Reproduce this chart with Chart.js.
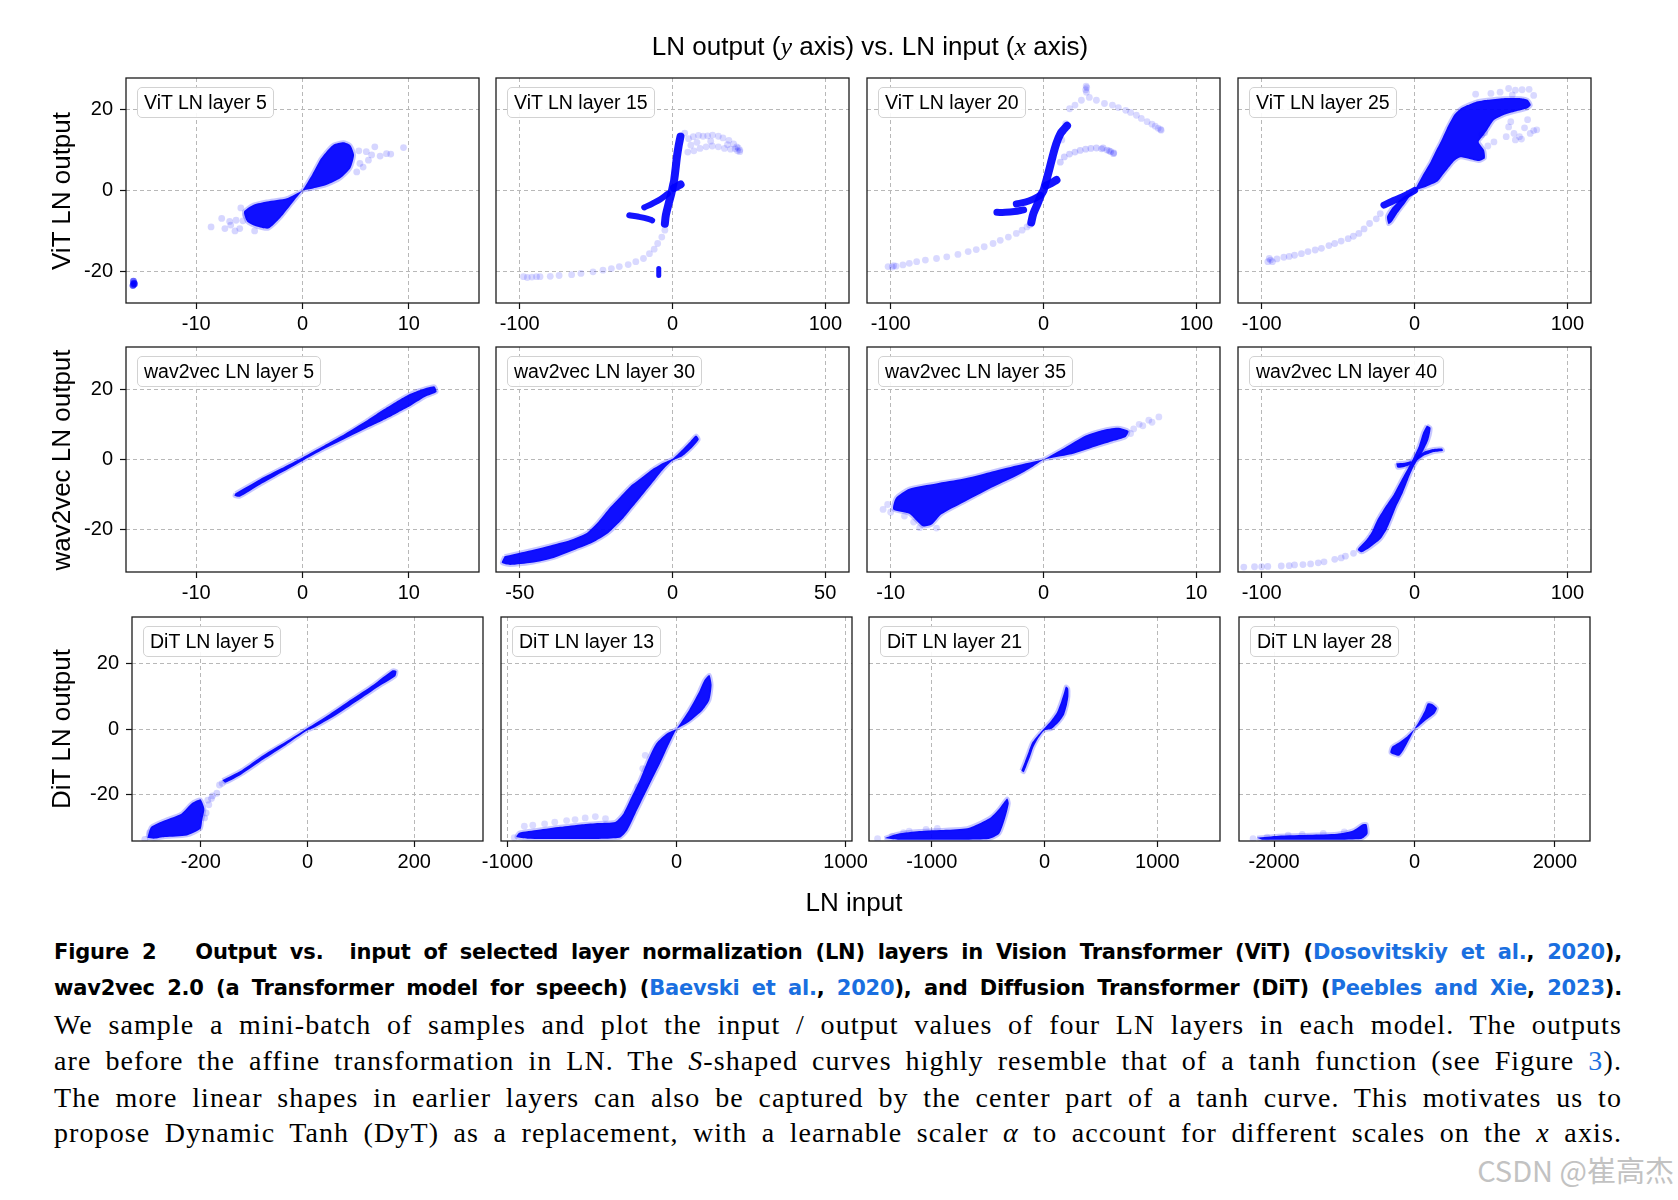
<!DOCTYPE html>
<html><head><meta charset="utf-8">
<script src="https://cdn.jsdelivr.net/npm/chart.js@4.4.1/dist/chart.umd.min.js"></script>
<style>
html,body{margin:0;padding:0;background:#fff;}
body{width:1678px;height:1200px;position:relative;overflow:hidden;font-family:"Liberation Sans",Arial,sans-serif;color:#000;}
canvas{position:absolute;z-index:1;}
.lbl{position:absolute;z-index:3;box-sizing:border-box;height:31px;font-size:19.5px;line-height:28px;padding:0 6px;border:1.5px solid #d2d2d2;border-radius:5px;background:rgba(255,255,255,0.9);white-space:nowrap;}
.ylab{position:absolute;z-index:3;left:61px;font-size:26px;line-height:30px;white-space:nowrap;transform:translate(-50%,-50%) rotate(-90deg);}
.ttl{position:absolute;z-index:3;font-size:26px;line-height:30px;white-space:nowrap;transform:translateX(-50%);}
.m{font-family:"Liberation Serif",serif;font-style:italic;}
.cap{position:absolute;z-index:3;left:54px;width:1568px;height:36px;line-height:36px;white-space:nowrap;text-align:justify;text-align-last:justify;}
.b{font-family:"DejaVu Sans","Liberation Sans",sans-serif;font-weight:700;font-size:21px;letter-spacing:-0.2px;}
.s{font-family:"Liberation Serif",serif;font-size:28px;letter-spacing:1.1px;}
.ln{color:#1a6fe0;}
.wm{position:absolute;z-index:3;right:4px;top:1151px;font-family:"Noto Sans CJK SC","Liberation Sans",sans-serif;font-size:29px;line-height:36px;color:#c2c2c2;white-space:nowrap;}
</style>
</head><body>
<script>
// ---------- tick values and axis ranges ----------
const yTicks = [-20, 0, 20];
const ticksVit5 = [-10, 0, 10];
const ticksVit15 = [-100, 0, 100];
const ticksVit20 = [-100, 0, 100];
const ticksVit25 = [-100, 0, 100];
const ticksWav5 = [-10, 0, 10];
const ticksWav30 = [-50, 0, 50];
const ticksWav35 = [-10, 0, 10];
const ticksWav40 = [-100, 0, 100];
const ticksDit5 = [-200, 0, 200];
const ticksDit13 = [-1000, 0, 1000];
const ticksDit21 = [-1000, 0, 1000];
const ticksDit28 = [-2000, 0, 2000];
const xHalfRange = [16.6, 115.5, 115.5, 115.5, 16.6, 57.8, 11.55, 115.5, 329, 1038, 1556, 2500];
const yHalfRange = [27.8, 32, 34];
const panelLabels = ['ViT LN layer 5','ViT LN layer 15','ViT LN layer 20','ViT LN layer 25',
  'wav2vec LN layer 5','wav2vec LN layer 30','wav2vec LN layer 35','wav2vec LN layer 40',
  'DiT LN layer 5','DiT LN layer 13','DiT LN layer 21','DiT LN layer 28'];
const rowLabels = ['ViT LN output','wav2vec LN output','DiT LN output'];

// ---------- ViT ----------
const vit5UpperLobe = [[0,0],[0.9,3.9],[1.66,7.6],[2.13,9.2],[2.9,11.3],[3.85,11.9],[4.5,11.2],[4.85,8.8],[4.5,5.5],[3.55,3.0],[2.3,1.4],[1.0,0.5],[0,0]];
const vit5LowerLobe = [[0,0],[-1.47,-1.9],[-3.35,-2.7],[-4.6,-3.5],[-5.5,-5.2],[-5.2,-7.7],[-4.3,-8.9],[-3.2,-9.4],[-2.1,-6.8],[-0.85,-2.7],[0,0]];
const vit5Sparse = [[5.1,4.6],[5.7,5.8],[6.2,7.5],[6.8,10.8],[7.3,8.5],[7.9,9.1],[8.3,9.0],[9.5,10.6],[5.4,6.7],[6.0,9.6],[5.3,9.8],[6.5,8.8],[-8.6,-9.0],[-7.6,-6.9],[-7.3,-9.4],[-6.75,-8.55],[-6.35,-10.0],[-5.9,-9.4],[-5.6,-7.5],[-5.35,-6.1],[-6.25,-7.35],[-6.85,-7.65],[-5.8,-4.3],[-4.5,-10.0]];
const vit5Outlier = [[-15.9,-23.2],[-15.85,-22.9],[-15.95,-23.5],[-15.9,-22.4],[-15.8,-23.1]];

const vit15Main = [[-5.0,-8.2],[-4.3,-6.0],[-2.5,-3.2],[-0.8,-0.8],[0.5,1.5],[1.1,2.6],[2.2,6.0],[2.9,8.3],[4.0,11.0],[5.2,13.3]];
const vit15Knob = [[1.0,0.6],[3.0,1.0],[5.3,1.5]];
const vit15BranchA = [[-3,-0.8],[-8,-2.2],[-13,-3.2],[-18.5,-4.2]];
const vit15BranchB = [[-28.3,-6.1],[-22,-6.5],[-16,-7.0],[-13.3,-7.4]];
const vit15Mark = [[-9,-19.3],[-9,-21.0]];
const vit15Loop = [[5.5,13.6],[8,14.2],[10.5,12.8],[13.6,13.3],[17,13.6],[20,13.4],[23,13.5],[26.2,13.7],[30,13.4],[33,13.0],[36.9,12.4],[40,11.5],[42,10.8],[44.1,10.0],[43,10.5],[41,10.3],[38,10.2],[34,10.4],[30,10.8],[26,11.0],[22,10.8],[18,10.4],[14,9.8],[10,9.5],[12,11.2],[16,11.9],[25,12.2],[36,11.3],[44,9.6],[42.5,9.8]];
const vit15Tail = [[-5.0,-9.8],[-7,-11.5],[-9.7,-13.1],[-12,-14.5],[-15.1,-15.6],[-19,-16.8],[-24,-17.6],[-29,-18.3],[-34.8,-18.8],[-40,-19.3],[-45.5,-19.7],[-52,-20.1],[-59.9,-20.5],[-66,-20.8],[-74.2,-21.0],[-80,-21.2],[-86.7,-21.3],[-92,-21.4],[-97.5,-21.3],[-95,-21.5],[-89,-21.3]];

const vit20Main = [[-8,-7.9],[-6.6,-5.7],[-3.8,-3.2],[-1.5,-1.0],[0,0],[1.5,2.0],[3.1,4.2],[5.9,8.3],[8.4,11.6],[11.2,14.1],[13.5,15.2],[15.4,16.0]];
const vit20Knob = [[1.5,1.2],[5,1.8],[8.5,2.6]];
const vit20BranchA = [[-2,-1.2],[-7,-2.2],[-12,-2.9],[-17.8,-3.3]];
const vit20BranchB = [[-30.5,-5.4],[-25,-5.4],[-19,-5.2],[-13,-4.8]];
const vit20Upper = [[12,12.5],[14.5,16.5],[17.1,20.2],[20.6,21.1],[24.8,22.3],[27.6,24.9],[28.3,25.4],[28.1,24.3],[27.9,25.8],[30,23.0],[34.6,22.3],[39.9,21.5],[45.1,21.1],[49,20.5],[53.8,19.8],[57,19.3],[60.8,18.6],[64,17.8],[67.8,17.0],[71,16.4],[73.1,15.9],[76.6,15.1],[75,15.4],[77,14.9]];
const vit20Mid = [[11,7.0],[13.6,8.3],[17,9.0],[20.6,9.5],[24,9.9],[27.6,10.2],[31,10.4],[34.6,10.5],[38,10.3],[41.6,10.0],[44,9.6],[45.8,9.1],[43,9.8],[46,9.3],[39,10.5]];
const vit20Tail = [[-9,-8.5],[-10.8,-9.0],[-14,-9.8],[-17.8,-10.6],[-23,-11.5],[-28.3,-12.3],[-33,-13.1],[-38.8,-13.9],[-44,-14.6],[-49.3,-15.1],[-56,-15.8],[-63.3,-16.4],[-70,-16.8],[-77.3,-17.2],[-83,-17.6],[-87.8,-18.0],[-92,-18.4],[-96.5,-18.7],[-101.7,-18.8],[-99,-18.9],[-98,-18.6]];

const vit25Body = [[0,0],[5,3.5],[10.7,7.2],[14,9.8],[17.2,12.1],[21,15.2],[26,18.7],[30,20.2],[34.7,21.1],[40,21.9],[47.8,22.4],[58,22.8],[69.6,22.8],[74,22.4],[76.1,21.1],[73.9,20.3],[66,19.5],[58.7,18.7],[52,17.4],[48,15.2],[45,13.6],[42,12.0],[45.5,10.0],[46,8.0],[42,7.3],[36,7.8],[30,8.2],[26,7.3],[22,5.5],[18,3.6],[15,2.2],[8,1.0],[0,0]];
const vit25ArmA = [[0,0],[-8,-1.6],[-15,-2.7],[-20,-3.6]];
const vit25ArmB = [[0,0],[-6,-3],[-11,-5.5],[-15,-7.8],[-17,-8.3],[-18,-6.5],[-15,-4.5],[-8,-1.8],[0,0]];
const vit25Top = [[61.6,25.2],[66,24.8],[70.4,24.9],[75,25.0],[56,24.3],[50,24.0],[78,23.5],[40,23.8],[64,23.6]];
const vit25Right = [[65.1,14.1],[68.7,13.3],[75.7,14.1],[61.6,15.7],[72,15.5],[78,14.8],[66,12.5],[70,12.7],[63,17.0],[74,17.5],[80,15.0],[60,13.3],[52,12],[48,11],[46,14.3],[44,13.8]];
const vit25Tail = [[-22.4,-5.7],[-25,-7],[-29.4,-8.15],[-33,-9.5],[-36.4,-10.6],[-40,-11.3],[-43.4,-11.9],[-48,-12.5],[-52.2,-13.1],[-56,-13.6],[-60.9,-14.3],[-65,-14.7],[-69.7,-15.1],[-74,-15.6],[-78.5,-16.0],[-82,-16.3],[-85.5,-16.5],[-90,-16.9],[-94.2,-17.2],[-96,-17.6],[-93,-17.6],[-95,-16.8]];

// ---------- wav2vec ----------
const wav5Band = [[-6.3,-9.6],[-4,-5.6],[-2,-2.5],[0,0.6],[2,3.9],[4,7.3],[6,11.0],[7,13.0],[8,14.9],[9,16.8],[10,18.5],[11,19.7],[12.4,20.8],[12.6,19.2],[11.5,17.8],[10,15.0],[9,13.4],[8,11.8],[7,10.3],[6,8.9],[4,5.9],[2,2.9],[0,-0.4],[-2,-3.8],[-4,-7.2],[-5.9,-10.6],[-6.4,-10.3],[-6.3,-9.6]];
const wav30Band = [[-55.0,-27.5],[-47.8,-26.1],[-40.7,-24.6],[-33.5,-22.9],[-28.1,-20.9],[-24.6,-18.0],[-21.0,-14.2],[-17.4,-10.9],[-13.8,-7.6],[-10.2,-5.2],[-6.6,-2.8],[-3.0,-0.95],[0,0.2],[3.2,2.8],[5.9,5.2],[7.7,6.8],[8.6,5.7],[6.3,3.3],[3.2,0.95],[0,-0.3],[-3.0,-2.8],[-5.7,-5.7],[-9.3,-9.5],[-12.9,-13.3],[-16.5,-17.1],[-21.0,-20.9],[-26.3,-23.7],[-31.7,-25.6],[-38.9,-28.0],[-46.1,-29.4],[-53.2,-30.0],[-55.9,-29.4],[-55.0,-27.5]];
const wav35UpperLobe = [[0,0],[1.36,3.3],[2.76,6.8],[3.81,8.3],[4.86,9.0],[5.56,8.1],[5.38,6.4],[4.51,5.2],[3.11,3.3],[1.71,1.4],[0,0]];
const wav35LowerLobe = [[0,0],[-1.78,-1.7],[-3.53,-3.6],[-5.28,-5.5],[-7.03,-6.8],[-8.78,-8.3],[-9.65,-10.9],[-9.83,-14.2],[-8.78,-15.4],[-7.9,-19.0],[-7.31,-18.5],[-6.68,-15.6],[-5.28,-12.3],[-3.53,-8.3],[-1.78,-4.7],[-0.73,-2.1],[0,0]];
const wav35Sparse = [[6.26,10.0],[6.89,11.2],[7.55,12.1],[5.9,8.7],[5.7,7.4],[6.5,9.6],[7.1,10.6],[-10.5,-14.2],[-10.2,-12.8],[-8.1,-19.4],[-9.1,-16.1],[-8.5,-17.8],[-7.0,-19.5],[-10.0,-15.0]];
const wav40Main = [[8.06,9.67],[10.5,9.0],[9.1,5.7],[5.6,2.4],[2.1,0],[-1.4,-2.8],[-4.2,-5.7],[-7.7,-9.5],[-11.9,-13.3],[-15.4,-17.1],[-18.2,-19.9],[-22.4,-22.7],[-29.4,-25.1],[-34.7,-26.4],[-37.1,-25.6],[-31.2,-22.7],[-27.7,-20.4],[-24.2,-17.1],[-18.9,-13.3],[-13.7,-10.0],[-8.4,-5.7],[-4.2,-2.4],[-0.7,0.5],[2.8,3.8],[5.6,7.6],[8.06,9.67]];
const wav40Right = [[1.4,1.1],[7.4,2.4],[12.6,3.0],[17.9,3.1],[18.6,2.5],[12.6,2.1],[5.6,0.95],[1.4,-0.2],[1.4,1.1]];
const wav40Left = [[-11.9,-1.1],[-6.7,-0.95],[-2.1,-0.5],[-2.8,-1.4],[-6.7,-2.1],[-11.2,-2.3],[-11.9,-1.1]];
const wav40Tail = [[-39.9,-26.7],[-45.2,-27.5],[-52.2,-28.4],[-59.2,-29.1],[-68,-29.7],[-78.5,-30.0],[-87.2,-30.3],[-96,-30.4],[-104.7,-30.5],[-111.7,-30.6],[-100,-30.5],[-82,-30.2],[-73,-29.9],[-63,-29.4],[-48,-28.0]];

// ---------- DiT ----------
const dit5Band = [[-159.4,-15.5],[-123.4,-12.5],[-82.3,-7.9],[-41.1,-3.9],[0,0.3],[41.1,4.5],[82.3,9.0],[123.4,13.4],[159.4,17.8],[166.6,17.6],[164.5,16.0],[133.7,12.9],[92.5,8.4],[51.4,4.0],[10.3,0.2],[0,-0.4],[-41.1,-4.9],[-82.3,-9.2],[-123.4,-13.7],[-154.2,-16.3],[-159.4,-15.5]];
const dit5Blob = [[-300.3,-33.0],[-293,-29.7],[-267.4,-27.7],[-236.5,-25.7],[-216,-22.4],[-200.5,-21.4],[-193.3,-24.2],[-197.4,-27.7],[-200.5,-30.3],[-226.2,-32.3],[-267.4,-32.8],[-288,-33.3],[-300.3,-33.0]];
const dit5Sparse = [[-187,-21.6],[-180,-21.1],[-190,-25.5],[-185,-23.0],[-178,-20.3],[-193,-27.0],[-170,-19.5],[-160,-16.5],[-165,-17.0],[-305,-33.5],[-296,-31.5]];
const dit13Lower = [[0,0],[-55.1,-1.3],[-119.9,-4.4],[-168.6,-9.4],[-217.2,-15.5],[-265.8,-20.6],[-314.4,-25.7],[-363,-28.2],[-460.3,-28.5],[-557.5,-28.9],[-687.2,-29.7],[-816.9,-30.6],[-930.3,-31.5],[-946.5,-32.8],[-881.7,-33.3],[-590,-33.4],[-337.1,-33.0],[-291.7,-30.8],[-243.1,-25.7],[-194.5,-20.6],[-145.9,-15.5],[-97.2,-10.5],[-51.9,-5.4],[-13,-1.3],[0,0]];
const dit13Upper = [[0,0],[74.6,5.8],[129.7,10.9],[165.3,14.9],[194.5,16.4],[207.5,13.4],[194.5,8.8],[155.6,5.8],[74.6,2.2],[0,0]];
const dit13Sparse = [[-900,-29.5],[-850,-29.2],[-780,-28.8],[-720,-28.3],[-650,-27.8],[-600,-27.5],[-540,-27.0],[-480,-26.6],[-420,-27.2],[-960,-33.0],[-200,-12],[-185,-8],[-230,-17.5]];
const dit21Upper = [[-205,-12.6],[-175,-10.0],[-140,-6.8],[-110,-4.2],[-60,-2.0],[0,0.3],[60,2.6],[110,5.0],[150,8.5],[175,11.2],[190,12.9],[210,12.3],[212,10.0],[200,7.5],[175,4.5],[130,2.2],[60,0],[0,-0.4],[-60,-3.0],[-100,-5.6],[-130,-8.6],[-160,-11.2],[-185,-13.1],[-205,-12.6]];
const dit21Base = [[-1418.4,-33.1],[-1300.2,-31.8],[-1111,-31.0],[-874.7,-30.6],[-685.6,-30.1],[-567.4,-28.5],[-472.8,-26.7],[-401.9,-24.2],[-331,-21.1],[-316.8,-22.6],[-354.6,-27.7],[-401.9,-31.8],[-496.5,-33.4],[-874.7,-33.6],[-1300.2,-33.6],[-1418.4,-33.1]];
const dit21Sparse = [[-1480,-33.3],[-1350,-32.5],[-1250,-31.5],[-1200,-31.0],[-1050,-30.5],[-950,-30.2]];
const dit28Upper = [[0,0],[76,2.7],[152,5.8],[190,7.8],[251,7.6],[319,6.3],[281,4.6],[152,2.5],[53,0.7],[0,0]];
const dit28Lower = [[0,0],[-99,-2.1],[-228,-4.2],[-319,-5.4],[-342,-7.2],[-221,-8.1],[-152,-6.2],[-53,-2.3],[0,0]];
const dit28Base = [[-2243,-33.0],[-1939,-32.4],[-1483,-32.1],[-1103,-31.8],[-875,-30.8],[-738,-28.9],[-684,-28.9],[-669,-31.8],[-760,-33.4],[-1483,-33.6],[-2167,-33.6],[-2243,-33.0]];
const dit28Sparse = [[-2300,-33.3],[-2100,-32.8],[-1800,-32.2],[-1600,-32.0],[-1300,-31.7],[-1000,-31.2]];

// ---------- panel assembly (references to the arrays above) ----------
const panelXTicks = [ticksVit5,ticksVit15,ticksVit20,ticksVit25,ticksWav5,ticksWav30,ticksWav35,ticksWav40,ticksDit5,ticksDit13,ticksDit21,ticksDit28];
const panelBlobs = [
  [vit5UpperLobe, vit5LowerLobe], [], [], [vit25Body, vit25ArmB],
  [wav5Band], [wav30Band], [wav35UpperLobe, wav35LowerLobe], [wav40Main, wav40Right, wav40Left],
  [dit5Band, dit5Blob], [dit13Lower, dit13Upper], [dit21Upper, dit21Base], [dit28Upper, dit28Lower, dit28Base]
];
const panelStrokes = [
  [], [[vit15Main,8],[vit15Knob,8],[vit15BranchA,6],[vit15BranchB,6],[vit15Mark,5]],
  [[vit20Main,8],[vit20Knob,8],[vit20BranchA,7],[vit20BranchB,7]], [[vit25ArmA,7]],
  [], [], [], [], [], [], [], []
];
const panelDots = [
  [[vit5Sparse,0.16],[vit5Outlier,0.6]], [[vit15Loop,0.15],[vit15Tail,0.15]],
  [[vit20Upper,0.15],[vit20Mid,0.18],[vit20Tail,0.15]], [[vit25Top,0.15],[vit25Right,0.15],[vit25Tail,0.16]],
  [], [], [[wav35Sparse,0.14]], [[wav40Tail,0.16]],
  [[dit5Sparse,0.16]], [[dit13Sparse,0.14]], [[dit21Sparse,0.14]], [[dit28Sparse,0.14]]
];

// ---------- layout (pixels) ----------
const colLeft = [[126,496,867,1238],[126,496,867,1238],[132,501,869,1239]];
const colWidth = [353,353,351];
const rowTop = [78,347,617];
const rowHeight = [225,225,224];
const PL = 72, PT = 22, PR = 26, PB = 48;

const framePlugin = {
  id: 'frame',
  afterDraw(chart) {
    const {ctx, chartArea: a} = chart;
    ctx.save();
    ctx.strokeStyle = '#1c1c1c';
    ctx.lineWidth = 1.3;
    ctx.strokeRect(a.left, a.top, a.right - a.left, a.bottom - a.top);
    ctx.restore();
  }
};

const toXY = arr => arr.map(p => ({x: p[0], y: p[1]}));
const tickFont = {family: 'Liberation Sans', size: 20};

for (let i = 0; i < 12; i++) {
  const r = Math.floor(i / 4), c = i % 4;
  const left = colLeft[r][c], top = rowTop[r], w = colWidth[r], h = rowHeight[r];
  const cv = document.createElement('canvas');
  cv.width = w + PL + PR; cv.height = h + PT + PB;
  cv.style.left = (left - PL) + 'px'; cv.style.top = (top - PT) + 'px';
  document.body.appendChild(cv);

  const datasets = [];
  panelDots[i].forEach(([arr, a]) => datasets.push({
    data: toXY(arr), showLine: false, pointRadius: 3.4, pointBorderWidth: 0,
    pointBackgroundColor: 'rgba(0,0,255,' + a + ')', clip: 0
  }));
  panelStrokes[i].forEach(([arr, bw]) => datasets.push({
    data: toXY(arr), showLine: true, fill: false, pointRadius: 0, borderWidth: bw,
    borderColor: 'rgba(0,0,255,0.92)', borderCapStyle: 'round', borderJoinStyle: 'round', tension: 0.35, clip: 0
  }));
  panelBlobs[i].forEach(arr => datasets.push({
    data: toXY(arr), showLine: true, fill: 'shape', pointRadius: 0, borderWidth: 4,
    borderColor: 'rgba(0,0,255,0.22)', backgroundColor: 'rgba(0,0,255,0.94)',
    borderJoinStyle: 'round', tension: 0.2, clip: 0
  }));

  const xt = panelXTicks[i], xm = xHalfRange[i], ym = yHalfRange[r], showY = (c === 0);
  new Chart(cv, {
    type: 'scatter',
    data: {datasets},
    plugins: [framePlugin],
    options: {
      responsive: false, animation: false, events: [], devicePixelRatio: 1,
      layout: {padding: {left: 0, top: PT, right: PR, bottom: 0}},
      plugins: {legend: {display: false}, tooltip: {enabled: false}, title: {display: false}},
      scales: {
        x: {
          type: 'linear', position: 'bottom', min: -xm, max: xm,
          afterBuildTicks: s => { s.ticks = xt.map(v => ({value: v})); },
          afterFit: s => { s.height = PB; },
          ticks: {autoSkip: false, maxRotation: 0, padding: 3, color: '#000', font: tickFont, callback: v => String(v)},
          grid: {color: '#b8b8b8', lineWidth: 1, drawTicks: true, tickLength: 6, tickColor: '#111', tickWidth: 1.2},
          border: {display: false, dash: [4, 3]}
        },
        y: {
          type: 'linear', position: 'left', min: -ym, max: ym,
          afterBuildTicks: s => { s.ticks = yTicks.map(v => ({value: v})); },
          afterFit: s => { s.width = PL; },
          ticks: {display: showY, autoSkip: false, padding: 7, color: '#000', font: tickFont, callback: v => String(v)},
          grid: {color: '#b8b8b8', lineWidth: 1, drawTicks: showY, tickLength: 6, tickColor: '#111', tickWidth: 1.2},
          border: {display: false, dash: [4, 3]}
        }
      }
    }
  });

  const lb = document.createElement('div');
  lb.className = 'lbl';
  lb.textContent = panelLabels[i];
  lb.style.left = (left + 11) + 'px';
  lb.style.top = (top + 9) + 'px';
  document.body.appendChild(lb);
}

for (let r = 0; r < 3; r++) {
  const d = document.createElement('div');
  d.className = 'ylab';
  d.textContent = rowLabels[r];
  d.style.top = (rowTop[r] + rowHeight[r] / 2) + 'px';
  document.body.appendChild(d);
}
</script>

<div class="ttl" style="left:870px;top:31px;">LN output (<span class="m">y</span> axis) vs. LN input (<span class="m">x</span> axis)</div>
<div class="ttl" style="left:854px;top:887px;">LN input</div>

<div class="cap b" style="top:934px;">Figure 2&nbsp;&nbsp; Output vs.&nbsp; input of selected layer normalization (LN) layers in Vision Transformer (ViT) (<span class="ln">Dosovitskiy et al.</span>, <span class="ln">2020</span>),</div>
<div class="cap b" style="top:970px;">wav2vec 2.0 (a Transformer model for speech) (<span class="ln">Baevski et al.</span>, <span class="ln">2020</span>), and Diffusion Transformer (DiT) (<span class="ln">Peebles and Xie</span>, <span class="ln">2023</span>).</div>
<div class="cap s" style="top:1007px;">We sample a mini-batch of samples and plot the input / output values of four LN layers in each model. The outputs</div>
<div class="cap s" style="top:1043px;">are before the affine transformation in LN. The <i>S</i>-shaped curves highly resemble that of a tanh function (see Figure <span class="ln">3</span>).</div>
<div class="cap s" style="top:1080px;">The more linear shapes in earlier layers can also be captured by the center part of a tanh curve. This motivates us to</div>
<div class="cap s" style="top:1115px;">propose Dynamic Tanh (DyT) as a replacement, with a learnable scaler <i>α</i> to account for different scales on the <i>x</i> axis.</div>
<div class="wm">CSDN @崔高杰</div>
</body></html>
